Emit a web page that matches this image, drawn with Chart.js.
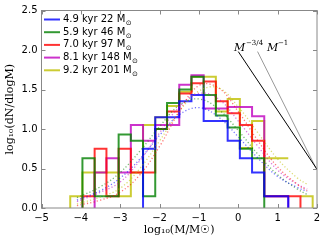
<!DOCTYPE html>
<html>
<head>
<meta charset="utf-8">
<script src="https://cdn.jsdelivr.net/npm/chart.js@4"></script>
<style>
  html, body { margin: 0; padding: 0; background: #fff; }
</style>
</head>
<body>
<canvas id="chartMass" width="327" height="245"></canvas>
<script>
// bin edges of the mass histograms (log10 M)
const binEdges = [-4.27, -3.96, -3.65, -3.35, -3.04, -2.73, -2.42, -2.11, -1.81, -1.50,
  -1.19, -0.88, -0.57, -0.27, 0.04, 0.35, 0.66, 0.97, 1.27, 1.58, 1.89];

const seriesLabels = ['4.9 kyr 22 M', '5.9 kyr 46 M', '7.0 kyr 97 M', '8.1 kyr 148 M', '9.2 kyr 201 M'];
const seriesColors = ['0, 0, 255', '0, 128, 0', '255, 0, 0', '191, 0, 191', '191, 191, 0'];

// log10(dN/dlogM) per bin, null = empty bin
const histBlue = [null, null, null, null, null, null, 0.75, 1.15, 1.15, 1.35, 1.43, 1.10, 1.10, 0.85, 0.63, 0.45, 0.15, 0.15, null, null];
const histGreen = [null, 0.63, 0.15, 0.15, 0.93, 0.85, 0.15, 1.00, 1.33, 1.50, 1.66, 1.43, 1.17, 1.02, 0.75, 0.63, null, null, null, null];
const histRed = [null, 0.15, 0.75, 0.15, 0.75, 0.45, 0.45, 1.00, 1.22, 1.45, 1.58, 1.60, 1.35, 1.20, 1.05, 0.85, 0.15, 0.15, 0.15, null];
const histMagenta = [null, null, 0.45, 0.63, 0.45, 1.05, 0.85, 1.05, 1.05, 1.56, 1.68, 1.26, 1.26, 1.28, 1.28, 1.16, 0.15, 0.15, null, null];
const histYellow = [0.15, 0.45, 0.45, 0.45, 0.15, 0.45, 1.05, 1.15, 1.29, 1.47, 1.66, 1.66, 1.22, 1.38, 0.76, 1.10, 0.63, 0.63, null, 0.15];

// dotted fits
const fitX = [-4.1, -3.5, -3.0, -2.5, -2.0, -1.5, -1.0, -0.5, 0.0, 0.5, 1.0, 1.5, 1.75];
const fitBlue = [0.10, 0.22, 0.38, 0.62, 0.92, 1.18, 1.27, 1.15, 0.90, 0.63, 0.40, 0.26, 0.21];
const fitGreen = [0.13, 0.27, 0.45, 0.72, 1.03, 1.30, 1.38, 1.25, 0.98, 0.68, 0.42, 0.24, 0.17];
const fitRed = [0.03, 0.10, 0.20, 0.42, 0.78, 1.22, 1.55, 1.52, 1.22, 0.85, 0.52, 0.30, 0.22];
const fitMagenta = [0.08, 0.20, 0.33, 0.60, 0.95, 1.28, 1.45, 1.38, 1.10, 0.78, 0.48, 0.30, 0.24];
const fitYellow = [0.05, 0.14, 0.25, 0.50, 0.85, 1.22, 1.48, 1.52, 1.28, 0.95, 0.62, 0.38, 0.30];

// reference power laws
const slope34X = [0.0, 2.0];
const slope34Y = [1.98, 0.49];
const slope1X = [0.49, 2.0];
const slope1Y = [1.98, 0.48];

const xTicks = [-5, -4, -3, -2, -1, 0, 1, 2];
const yTicks = [0.0, 0.5, 1.0, 1.5, 2.0, 2.5];

function stepPoints(vals) {
    const pts = [];
    const first = vals.findIndex(v => v !== null);
    let last = vals.length - 1;
    while (vals[last] === null) last--;
    for (let i = first; i <= last; i++) {
        if (vals[i] === null) {
            pts.push({ x: binEdges[i], y: null });
            continue;
        }
        if (i === first) pts.push({ x: binEdges[i], y: 0 });
        pts.push({ x: binEdges[i], y: vals[i] }, { x: binEdges[i + 1], y: vals[i] });
    }
    pts.push({ x: binEdges[last + 1], y: 0 });
    return pts;
}

function zip(xs, ys) {
    return xs.map((x, i) => ({ x: x, y: ys[i] }));
}

const hists = [histBlue, histGreen, histRed, histMagenta, histYellow];
const fits = [fitBlue, fitGreen, fitRed, fitMagenta, fitYellow];

const datasets = [];
fits.forEach((f, i) => {
    datasets.push({
        data: zip(fitX, f),
        borderColor: 'rgba(' + seriesColors[i] + ', 0.55)',
        borderWidth: 1.3,
        borderDash: [1.2, 2.2],
        pointRadius: 0,
        tension: 0.4,
        fill: false
    });
});
datasets.push({
    data: zip(slope34X, slope34Y),
    borderColor: '#000',
    borderWidth: 1,
    pointRadius: 0
});
datasets.push({
    data: zip(slope1X, slope1Y),
    borderColor: '#999',
    borderWidth: 1,
    pointRadius: 0
});
hists.forEach((h, i) => {
    datasets.push({
        data: stepPoints(h),
        borderColor: 'rgba(' + seriesColors[i] + ', 0.8)',
        borderWidth: 2,
        pointRadius: 0,
        tension: 0,
        spanGaps: false,
        fill: false
    });
});

const decorPlugin = {
    id: 'decor',
    afterDraw(chart) {
        const ctx = chart.ctx;
        const a = chart.chartArea;
        const x = chart.scales.x;
        const y = chart.scales.y;
        ctx.save();
        // frame and inward ticks
        ctx.strokeStyle = '#888';
        ctx.lineWidth = 1;
        ctx.strokeRect(a.left, a.top, a.right - a.left, a.bottom - a.top);
        ctx.beginPath();
        xTicks.forEach(t => {
            const px = Math.round(x.getPixelForValue(t)) + 0.5;
            ctx.moveTo(px, a.bottom); ctx.lineTo(px, a.bottom - 4);
            ctx.moveTo(px, a.top); ctx.lineTo(px, a.top + 4);
        });
        yTicks.forEach(t => {
            const py = Math.round(y.getPixelForValue(t)) + 0.5;
            ctx.moveTo(a.left, py); ctx.lineTo(a.left + 4, py);
            ctx.moveTo(a.right, py); ctx.lineTo(a.right - 4, py);
        });
        ctx.stroke();

        // legend
        ctx.textBaseline = 'middle';
        seriesLabels.forEach((lab, i) => {
            const ly = 19.5 + i * 12.7;
            ctx.strokeStyle = 'rgba(' + seriesColors[i] + ', 0.8)';
            ctx.lineWidth = 2;
            ctx.beginPath();
            ctx.moveTo(44, ly); ctx.lineTo(60, ly);
            ctx.stroke();
            ctx.fillStyle = '#000';
            ctx.font = '10px "DejaVu Sans"';
            ctx.fillText(lab, 63, ly);
            const w = ctx.measureText(lab).width;
            ctx.font = '7px "DejaVu Sans"';
            ctx.fillText('\u2299', 63 + w + 0.5, ly + 3.5);
        });

        // power law labels
        ctx.fillStyle = '#000';
        ctx.textBaseline = 'alphabetic';
        ctx.font = 'italic 11px "DejaVu Serif"';
        ctx.fillText('M', 234, 51);
        ctx.fillText('M', 267, 51);
        ctx.font = '7px "DejaVu Serif"';
        ctx.fillText('\u22123/4', 246, 45);
        ctx.fillText('\u22121', 278, 45);
        ctx.restore();
    }
};

const ctx_mass = document.getElementById('chartMass').getContext('2d');

const config_mass = {
    type: 'line',
    data: { datasets: datasets },
    options: {
        responsive: false,
        animation: false,
        devicePixelRatio: 1,
        layout: { padding: { top: 10.5, right: 10, left: 0, bottom: 0 } },
        plugins: {
            legend: { display: false },
            tooltip: { enabled: false }
        },
        scales: {
            x: {
                type: 'linear',
                min: -5,
                max: 2,
                afterFit: s => { s.height = 37; },
                afterBuildTicks: s => { s.ticks = xTicks.map(v => ({ value: v })); },
                grid: { display: false, drawTicks: false },
                border: { display: false },
                ticks: {
                    padding: 4,
                    color: '#000',
                    font: { family: 'DejaVu Sans', size: 10 },
                    callback: v => String(v).replace('-', '\u2212')
                },
                title: {
                    display: true,
                    text: 'log\u2081\u2080(M/M\u2609)',
                    color: '#000',
                    font: { family: 'DejaVu Serif', size: 11 },
                    padding: { top: 0, bottom: 8 }
                }
            },
            y: {
                type: 'linear',
                min: 0,
                max: 2.5,
                afterFit: s => { s.width = 41.5; },
                afterBuildTicks: s => { s.ticks = yTicks.map(v => ({ value: v })); },
                grid: { display: false, drawTicks: false },
                border: { display: false },
                ticks: {
                    padding: 4,
                    color: '#000',
                    font: { family: 'DejaVu Sans', size: 10 },
                    callback: v => v.toFixed(1)
                },
                title: {
                    display: true,
                    text: 'log\u2081\u2080(dN/dlogM)',
                    color: '#000',
                    font: { family: 'DejaVu Serif', size: 11 },
                    padding: { top: 4, bottom: 0 }
                }
            }
        }
    },
    plugins: [decorPlugin]
};

const chart_mass = new Chart(ctx_mass, config_mass);
</script>
</body>
</html>
